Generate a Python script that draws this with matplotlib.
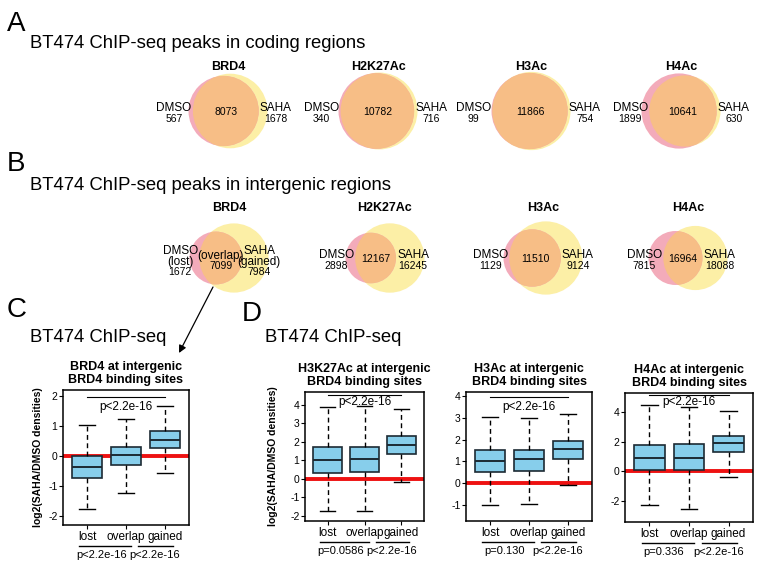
import math
import matplotlib
matplotlib.use("Agg")
import matplotlib.pyplot as plt
from matplotlib.patches import Circle

plt.rcParams['font.family'] = ['Liberation Sans', 'DejaVu Sans']
plt.rcParams['axes.unicode_minus'] = False

# ---------------- data ----------------
venn_names = ["BRD4", "H2K27Ac", "H3Ac", "H4Ac"]
coding_dmso_only = [567, 340, 99, 1899]
coding_overlap = [8073, 10782, 11866, 10641]
coding_saha_only = [1678, 716, 754, 630]
inter_dmso_only = [1672, 2898, 1129, 7815]
inter_overlap = [7099, 12167, 11510, 16964]
inter_saha_only = [7984, 16245, 9124, 18088]

groups = ["lost", "overlap", "gained"]
box_titles = ["BRD4 at intergenic\nBRD4 binding sites",
              "H3K27Ac at intergenic\nBRD4 binding sites",
              "H3Ac at intergenic\nBRD4 binding sites",
              "H4Ac at intergenic\nBRD4 binding sites"]
# per panel: [lost, overlap, gained] stats
whis_lo = [[-1.78, -1.23, -0.56], [-1.71, -1.71, -0.14], [-0.99, -0.94, -0.09], [-2.25, -2.56, -0.38]]
q1s = [[-0.72, -0.31, 0.27], [0.31, 0.36, 1.33], [0.52, 0.55, 1.12], [0.07, 0.07, 1.28]]
meds = [[-0.37, 0.02, 0.54], [1.03, 1.10, 1.84], [1.03, 1.09, 1.55], [0.90, 0.92, 1.91]]
q3s = [[0.0, 0.30, 0.82], [1.71, 1.75, 2.32], [1.53, 1.53, 1.93], [1.80, 1.87, 2.38]]
whis_hi = [[1.04, 1.22, 1.66], [3.90, 3.96, 3.80], [3.04, 3.01, 3.15], [4.45, 4.34, 4.04]]
p_top = ["p<2.2e-16", "p<2.2e-16", "p<2.2e-16", "p<2.2e-16"]
p_lost_overlap = ["p<2.2e-16", "p=0.0586", "p=0.130", "p=0.336"]
p_overlap_gained = ["p<2.2e-16", "p<2.2e-16", "p<2.2e-16", "p<2.2e-16"]

# ---------------- layout ----------------
W, H = 762, 565
fig = plt.figure(figsize=(W / 100, H / 100), dpi=100)
ov = fig.add_axes([0, 0, 1, 1])
ov.set_xlim(0, W)
ov.set_ylim(H, 0)
ov.axis('off')

PINK = '#F3ABBA'
YELLOW = '#FCEFA6'
ORANGE = '#F7BE86'


def lens_area(r1, r2, d):
    if d >= r1 + r2:
        return 0.0
    if d <= abs(r1 - r2):
        return math.pi * min(r1, r2) ** 2
    a1 = r1 ** 2 * math.acos((d * d + r1 * r1 - r2 * r2) / (2 * d * r1))
    a2 = r2 ** 2 * math.acos((d * d + r2 * r2 - r1 * r1) / (2 * d * r2))
    a3 = 0.5 * math.sqrt((-d + r1 + r2) * (d + r1 - r2) * (d - r1 + r2) * (d + r1 + r2))
    return a1 + a2 - a3


def venn(cx, cy, title, title_y, a_only, both, b_only, size=79, extra=False):
    r1 = math.sqrt((a_only + both) / math.pi)
    r2 = math.sqrt((b_only + both) / math.pi)
    lo, hi = abs(r1 - r2) + 1e-9, r1 + r2
    for _ in range(80):
        mid = 0.5 * (lo + hi)
        if lens_area(r1, r2, mid) > both:
            lo = mid
        else:
            hi = mid
    d = 0.5 * (lo + hi)
    left = min(-r1, d - r2)
    right = max(r1, d + r2)
    height = 2 * max(r1, r2)
    s = size / max(right - left, height)
    mx = 0.5 * (left + right)
    X1 = cx + (0 - mx) * s
    X2 = cx + (d - mx) * s
    R1, R2 = r1 * s, r2 * s
    cp = Circle((X1, cy), R1, fc=PINK, ec='none', zorder=1)
    cyel = Circle((X2, cy), R2, fc=YELLOW, ec='none', zorder=1)
    ov.add_patch(cyel)
    ov.add_patch(cp)
    co = Circle((X1, cy), R1, fc=ORANGE, ec='none', zorder=2)
    ov.add_patch(co)
    co.set_clip_path(cyel)
    ov.text(cx, title_y, title, ha='center', va='center', fontsize=9, fontweight='bold')
    yl = X2 - R2
    pr = X1 + R1
    dx = yl - 19
    sx = pr + 17
    mid_x = 0.5 * (max(X1 - R1, yl) + min(pr, X2 + R2))
    if extra:
        ov.text(dx, cy - 7, "DMSO", ha='center', va='center', fontsize=8.5, zorder=5)
        ov.text(dx, cy + 4, "(lost)", ha='center', va='center', fontsize=8.5, zorder=5)
        ov.text(dx, cy + 14, f"{a_only}", ha='center', va='center', fontsize=7.5, zorder=5)
        ov.text(sx, cy - 7, "SAHA", ha='center', va='center', fontsize=8.5, zorder=5)
        ov.text(sx, cy + 4, "(gained)", ha='center', va='center', fontsize=8.5, zorder=5)
        ov.text(sx, cy + 14, f"{b_only}", ha='center', va='center', fontsize=7.5, zorder=5)
        ov.text(mid_x, cy - 2, "(overlap)", ha='center', va='center', fontsize=8.5, zorder=5)
        ov.text(mid_x, cy + 8, f"{both}", ha='center', va='center', fontsize=7.5, zorder=5)
    else:
        ov.text(dx, cy - 3, "DMSO", ha='center', va='center', fontsize=8.5, zorder=5)
        ov.text(dx, cy + 8, f"{a_only}", ha='center', va='center', fontsize=7.5, zorder=5)
        ov.text(sx, cy - 3, "SAHA", ha='center', va='center', fontsize=8.5, zorder=5)
        ov.text(sx, cy + 8, f"{b_only}", ha='center', va='center', fontsize=7.5, zorder=5)
        ov.text(mid_x, cy + 1, f"{both}", ha='center', va='center', fontsize=7.5, zorder=5)


# panel letters and titles
ov.text(7, 24, "A", fontsize=20, ha='left', va='center')
ov.text(30, 44, "BT474 ChIP-seq peaks in coding regions", fontsize=13.3, ha='left', va='center')
ov.text(7, 164, "B", fontsize=20, ha='left', va='center')
ov.text(30, 186, "BT474 ChIP-seq peaks in intergenic regions", fontsize=13.3, ha='left', va='center')
ov.text(7, 310, "C", fontsize=20, ha='left', va='center')
ov.text(30, 337, "BT474 ChIP-seq", fontsize=13.3, ha='left', va='center')
ov.text(242, 314, "D", fontsize=20, ha='left', va='center')
ov.text(265, 337, "BT474 ChIP-seq", fontsize=13.3, ha='left', va='center')

a_cx = [228, 378, 531, 681]
b_cx = [229, 385, 543, 688]
for i, name in enumerate(venn_names):
    venn(a_cx[i], 111, name, 67, coding_dmso_only[i], coding_overlap[i], coding_saha_only[i])
    venn(b_cx[i], 258, name, 208, inter_dmso_only[i], inter_overlap[i], inter_saha_only[i],
         extra=(i == 0))

ov.annotate('', xy=(179, 353), xytext=(213, 287),
            arrowprops=dict(arrowstyle='-|>', lw=0.9, color='black', mutation_scale=11,
                            shrinkA=0, shrinkB=0))

# ---------------- box plots ----------------
rects = [(63, 390, 189, 525), (305, 392, 424, 521), (466, 392, 592, 521), (625, 393, 753, 522)]
ylims = [(-2.3, 2.2), (-2.27, 4.7), (-1.73, 4.18), (-3.42, 5.28)]
yticks = [[-2, -1, 0, 1, 2], [-2, -1, 0, 1, 2, 3, 4], [-1, 0, 1, 2, 3, 4], [-2, 0, 2, 4]]
ptop_y = [(1.97, 1.63), (4.52, 4.15), (3.95, 3.50), (5.12, 4.65)]
ylabel_x = [-0.155, -0.225, None, None]

for k in range(4):
    l, t, r, b = rects[k]
    hpx = b - t
    ax = fig.add_axes([l / W, 1 - b / H, (r - l) / W, (b - t) / H])
    stats = []
    for j in range(3):
        stats.append(dict(med=meds[k][j], q1=q1s[k][j], q3=q3s[k][j],
                          whislo=whis_lo[k][j], whishi=whis_hi[k][j], fliers=[]))
    ax.axhline(0, color='#EE1111', lw=2.8, zorder=1.5)
    ax.bxp(stats, positions=[1, 2, 3], widths=0.78, patch_artist=True, showfliers=False,
           capwidths=0.42,
           boxprops=dict(facecolor='#87CEEB', edgecolor='#1c2a33', linewidth=1.2),
           medianprops=dict(color='#1c2a33', linewidth=1.4),
           whiskerprops=dict(color='black', linewidth=1.0, linestyle=(0, (3.5, 2.5))),
           capprops=dict(color='black', linewidth=1.0))
    ax.set_xlim(0.38, 3.62)
    ax.set_ylim(*ylims[k])
    ax.set_yticks(yticks[k])
    ax.set_yticklabels([str(v) for v in yticks[k]])
    ax.set_xticks([1, 2, 3])
    ax.set_xticklabels(groups)
    ax.tick_params(axis='y', labelsize=7.5, length=3, width=0.8, pad=1)
    ax.tick_params(axis='x', labelsize=8.5, length=3, width=0.8, pad=1)
    for sp in ax.spines.values():
        sp.set_linewidth(1.1)
    ax.set_title(box_titles[k], fontsize=9, fontweight='bold', pad=5, linespacing=1.15)
    # top comparison
    ax.plot([1, 3], [ptop_y[k][0]] * 2, color='black', lw=0.8)
    ax.text(2, ptop_y[k][1], p_top[k], ha='center', va='center', fontsize=8.5)
    # bottom comparisons
    ly = -21 / hpx
    ty = -30 / hpx
    trans = ax.get_xaxis_transform()
    ax.plot([0.8, 2.12], [ly, ly], color='black', lw=1.0, transform=trans, clip_on=False,
            zorder=5)
    ax.plot([2.32, 3.22], [ly, ly], color='black', lw=1.0, transform=trans, clip_on=False,
            zorder=5)
    ax.text(1.36, ty, p_lost_overlap[k], ha='center', va='center', fontsize=8, transform=trans)
    ax.text(2.74, ty, p_overlap_gained[k], ha='center', va='center', fontsize=8, transform=trans)
    if ylabel_x[k] is not None:
        ax.set_ylabel("log2(SAHA/DMSO densities)", fontsize=7.5, fontweight='bold')
        ax.yaxis.set_label_coords(ylabel_x[k], 0.5)

fig.savefig("out.png", dpi=100)
